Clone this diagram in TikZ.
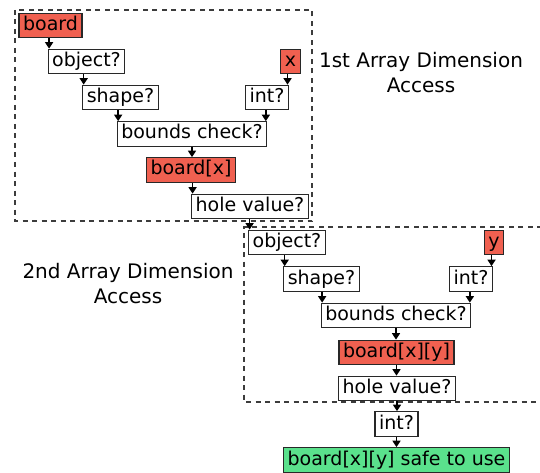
\documentclass[tikz,border=0pt]{standalone}
\usepackage{fontspec}
\setmainfont{DejaVu Sans}
\usetikzlibrary{arrows.meta,calc}
\definecolor{boxred}{RGB}{240,96,80}
\definecolor{boxgreen}{RGB}{90,225,140}
\definecolor{edgegray}{RGB}{40,40,40}
\definecolor{dashgray}{RGB}{60,60,60}
\begin{document}
\begin{tikzpicture}[x=1pt,y=-1pt,
 box/.style={draw=edgegray, line width=1.2pt, fill=white, font=\fontsize{19pt}{23pt}\selectfont, inner xsep=4pt, inner ysep=0pt, text height=14.5pt, text depth=4.5pt, minimum height=24.5pt},
 redbox/.style={box, fill=boxred},
 greenbox/.style={box, fill=boxgreen},
 arr/.style={draw=black, line width=1.5pt, -{Triangle[width=8pt,length=6.5pt]}},
 region/.style={draw=dashgray, line width=1.2pt, dash pattern=on 5pt off 4.5pt},
 lbl/.style={font=\fontsize{20pt}{25pt}\selectfont, align=center}]
\useasboundingbox (0,0) rectangle (540,473);
% regions
\draw[region] (15,10) rectangle (312,221);
\draw[region] (542,227) -- (244,227) -- (244,402) -- (542,402);
% labels
\node[lbl] (lab1) at (421,73) {1st Array Dimension\\Access};
\node[lbl] (lab2) at (128,284) {2nd Array Dimension\\Access};
% first access
\node[redbox] (board) at (50.5,25.5) {board};
\node[box] (obj1) at (86.5,61.5) {object?};
\node[redbox] (xv) at (290.5,61.5) {x};
\node[box] (shape1) at (120.5,97.5) {shape?};
\node[box] (int1) at (267,97.5) {int?};
\node[box] (bounds1) at (192,134) {bounds check?};
\node[redbox] (boardx) at (191,170) {board[x]};
\node[box] (hole1) at (250,206.5) {hole value?};
% second access
\node[box] (obj2) at (287,242.5) {object?};
\node[redbox] (yv) at (494,242.5) {y};
\node[box] (shape2) at (321.5,279) {shape?};
\node[box] (int2) at (471,279) {int?};
\node[box] (bounds2) at (396,315.5) {bounds check?};
\node[redbox] (boardxy) at (396.5,352.5) {board[x][y]};
\node[box] (hole2) at (397,388.5) {hole value?};
\node[box] (int3) at (396.5,424) {int?};
\node[greenbox] (safe) at (396.5,460) {board[x][y] safe to use};
% arrow targets
\coordinate (t1) at ($(obj1.north west)+(1.5,0)$);
\coordinate (t2) at ($(shape1.north west)+(1.5,0)$);
\coordinate (t3) at ($(bounds1.north west)+(1.5,0)$);
\coordinate (t4) at ($(int1.north east)+(-1.5,0)$);
\coordinate (t5) at ($(bounds1.north east)+(-1.5,0)$);
\coordinate (t7) at ($(hole1.north west)+(1.5,0)$);
\coordinate (t8) at ($(obj2.north west)+(1.5,0)$);
\coordinate (t9) at ($(shape2.north west)+(1.5,0)$);
\coordinate (t10) at ($(bounds2.north west)+(1.5,0)$);
\coordinate (t11) at ($(int2.north east)+(-1.5,0)$);
\coordinate (t12) at ($(bounds2.north east)+(-1.5,0)$);
% arrows
\draw[arr] (board.south -| t1) -- (t1);
\draw[arr] (obj1.south -| t2) -- (t2);
\draw[arr] (shape1.south -| t3) -- (t3);
\draw[arr] (xv.south -| t4) -- (t4);
\draw[arr] (int1.south -| t5) -- (t5);
\draw[arr] (bounds1.south) -- (bounds1.south |- boardx.north);
\draw[arr] (boardx.south -| t7) -- (t7);
\draw[arr] (hole1.south -| t8) -- (t8);
\draw[arr] (obj2.south -| t9) -- (t9);
\draw[arr] (shape2.south -| t10) -- (t10);
\draw[arr] (yv.south -| t11) -- (t11);
\draw[arr] (int2.south -| t12) -- (t12);
\draw[arr] (bounds2.south) -- (bounds2.south |- boardxy.north);
\draw[arr] (boardxy.south) -- (boardxy.south |- hole2.north);
\draw[arr] (hole2.south) -- (hole2.south |- int3.north);
\draw[arr] (int3.south) -- (int3.south |- safe.north);
\end{tikzpicture}
\end{document}
